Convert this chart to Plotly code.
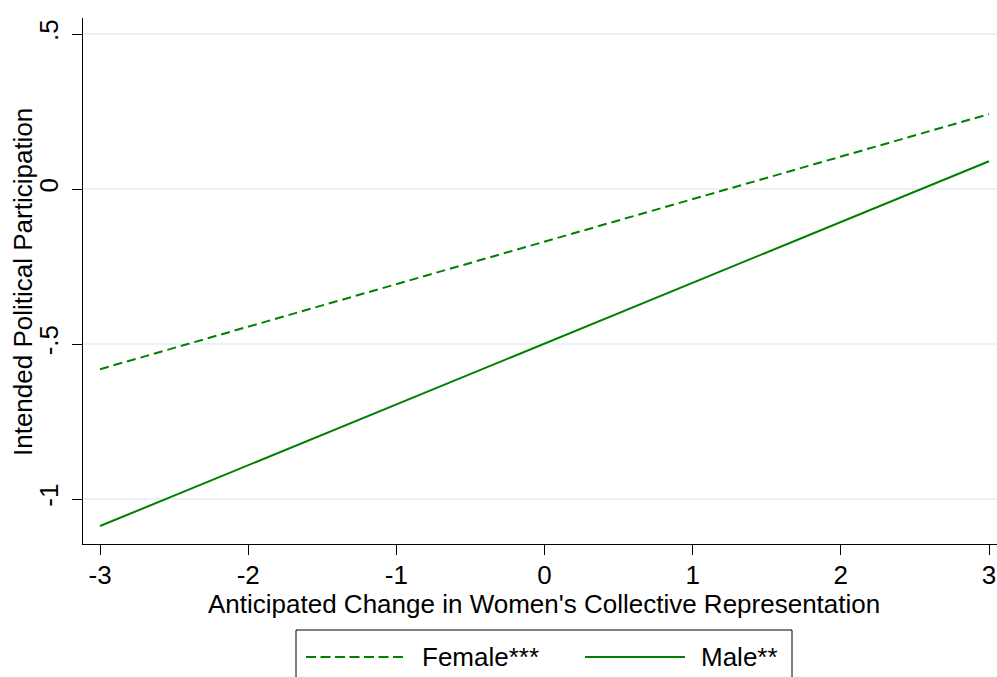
import plotly.graph_objects as go

x_vals = [-3, 3]
female = [-0.581, 0.242]
male = [-1.087, 0.090]
x_ticks = [-3, -2, -1, 0, 1, 2, 3]
x_ticklabels = ["-3", "-2", "-1", "0", "1", "2", "3"]
y_ticks = [0.5, 0, -0.5, -1]
y_ticklabels = [".5", "0", "-.5", "-1"]
series_names = ["Female***", "Male**"]
x_title = "Anticipated Change in Women's Collective Representation"
y_title = "Intended Political Participation"

GREEN = "#008000"
FONT = "Liberation Sans, Arial, sans-serif"
FS = 26
W, H = 997, 677
L, R, T, B = 83, 0, 18, 133
pw, ph = W - L - R, H - T - B

def px(xp):
    return (xp - L) / pw

def py(yp):
    return (H - B - yp) / ph

fig = go.Figure()
fig.add_trace(go.Scatter(x=x_vals, y=female, mode="lines", name=series_names[0],
                         line=dict(color=GREEN, width=2, dash="9px,5px"), showlegend=False))
fig.add_trace(go.Scatter(x=x_vals, y=male, mode="lines", name=series_names[1],
                         line=dict(color=GREEN, width=2), showlegend=False))

shapes = []
# legend box
shapes.append(dict(type="rect", xref="paper", yref="paper", x0=px(296), x1=px(792),
                   y0=py(700), y1=py(630), line=dict(color="black", width=1), fillcolor="white"))
shapes.append(dict(type="line", xref="paper", yref="paper", x0=px(306), x1=px(405),
                   y0=py(657), y1=py(657), line=dict(color=GREEN, width=2, dash="10px,4.5px")))
shapes.append(dict(type="line", xref="paper", yref="paper", x0=px(585), x1=px(685),
                   y0=py(657), y1=py(657), line=dict(color=GREEN, width=2)))

tf = dict(size=FS, color="black", family=FONT)
annotations = [
    dict(text=series_names[0], xref="paper", yref="paper", x=px(420), y=py(657),
         xanchor="left", yanchor="middle", showarrow=False, font=tf),
    dict(text=series_names[1], xref="paper", yref="paper", x=px(699), y=py(657),
         xanchor="left", yanchor="middle", showarrow=False, font=tf),
    dict(text=x_title, xref="paper", yref="paper", x=px(544), y=py(604),
         xanchor="center", yanchor="middle", showarrow=False, font=tf),
    dict(text=y_title, xref="paper", yref="paper", x=px(23), y=py(282), textangle=-90,
         xanchor="center", yanchor="middle", showarrow=False, font=tf),
]

fig.update_layout(
    width=W, height=H,
    margin=dict(l=L, r=R, t=T, b=B),
    paper_bgcolor="white", plot_bgcolor="white",
    font=dict(family=FONT, size=FS, color="black"),
    shapes=shapes, annotations=annotations,
    xaxis=dict(range=[-3.115, 3.054], tickvals=x_ticks, ticktext=x_ticklabels,
               showgrid=False, zeroline=False, showline=True, linecolor="black", linewidth=1,
               ticks="outside", ticklen=10, tickcolor="black", ticklabelstandoff=-2),
    yaxis=dict(range=[-1.145, 0.552], tickvals=y_ticks, ticktext=y_ticklabels, tickangle=-90,
               showgrid=True, gridcolor="#EAF2F3", gridwidth=2, zeroline=False,
               showline=True, linecolor="black", linewidth=1,
               ticks="outside", ticklen=10, tickcolor="black", ticklabelstandoff=4),
)

fig.write_html("out.html")
